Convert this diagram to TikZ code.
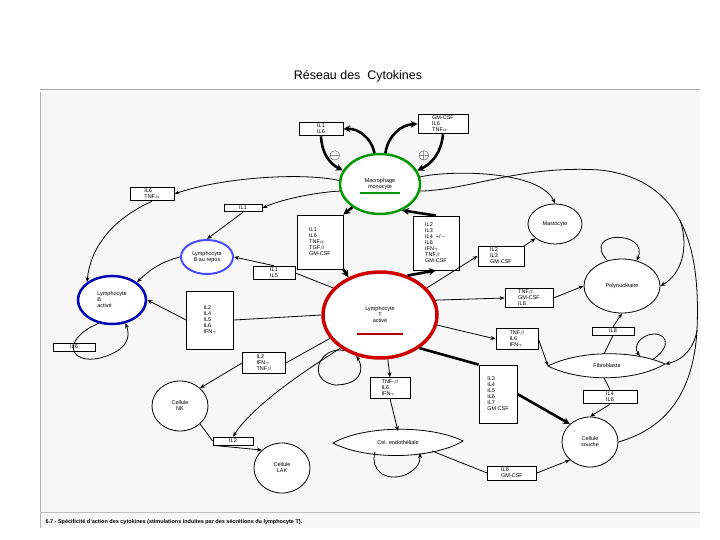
\documentclass[tikz,border=0pt]{standalone}
\usepackage{fontspec}
\setmainfont{Liberation Sans}
\usetikzlibrary{arrows.meta,shapes.geometric,calc}
\begin{document}
\begin{tikzpicture}[x=1bp,y=-1bp,
  txt/.style={font=\fontsize{5.5}{6}\selectfont,align=left,inner sep=0pt},
  box/.style={draw,thick,fill=white,font=\fontsize{5.5}{6}\selectfont,align=left,minimum width=#1,inner sep=2pt},
  box/.default=40bp,
  cell/.style={draw,thick,ellipse,fill=white,font=\fontsize{5.5}{6}\selectfont,align=center},
  ar/.style={thick,-{Stealth[length=5pt,width=4pt]}},
  far/.style={line width=2.6pt,-{Stealth[length=7pt,width=7pt]}},
  ln/.style={thick}]
\useasboundingbox (0,0) rectangle (720,540);
\fill[gray!6] (40,90) rectangle (700,528);
\draw[gray!70,line width=1pt] (40,90) -- (700,90);
\draw[gray!60] (40,92) -- (40,528);
\draw[gray!50] (40,512) -- (700,512);
\node[font=\fontsize{12.5}{14}\selectfont] (title) at (358,76) {Réseau des\ \ Cytokines};
\node[font=\fontsize{5.5}{6}\selectfont\bfseries,anchor=west] (cap) at (42,522) {6.7 - Spécificité d'action des cytokines (stimulations induites par des sécrétions du lymphocyte T).};

% cells
\node[cell,line width=2.5pt,draw=green!60!black,minimum width=80bp,minimum height=60bp] (mac) at (380,184) {Macrophage\\monocyte};
\draw[green!60!black,line width=1.5pt] (360,193) -- (400,193);
\node[cell,line width=3.5pt,draw=red!80!black,minimum width=114bp,minimum height=86bp] (T) at (380,315) {Lymphocyte\\T\\activé};
\draw[red!70!black,line width=1.5pt] (357,334) -- (403,334);
\node[cell,line width=2pt,draw=blue!70,minimum width=52bp,minimum height=34bp,inner sep=0pt] (Br) at (207,257) {Lymphocyte\\B au repos};
\node[cell,line width=2.5pt,draw=blue!70!black,minimum width=68bp,minimum height=48bp,align=left] (Ba) at (112,300) {Lymphocyte\\B\\activé};
\node[cell,minimum width=54bp,minimum height=40bp] (mas) at (555,224) {Mastocyte};
\node[cell,minimum width=76bp,minimum height=54bp] (poly) at (622,286) {Polynucléaire};
\node[cell,minimum width=56bp,minimum height=50bp] (NK) at (180,406) {Cellule\\NK};
\node[cell,minimum width=56bp,minimum height=50bp] (LAK) at (282,468) {Cellule\\LAK};
\node[cell,minimum width=56bp,minimum height=50bp] (sou) at (590,442) {Cellule\\souche};
% lens shapes
\draw[thick,fill=white] (333,443) .. controls (365,425) and (431,425) .. (463,441) .. controls (431,460) and (365,460) .. cycle;
\node[txt] (endo) at (398,443) {Cel. endothéliale};
\draw[thick,fill=white] (548,366) .. controls (580,350) and (634,350) .. (665,364) .. controls (634,382) and (580,382) .. cycle;
\node[txt] (fib) at (607,366) {Fibroblaste};
\coordinate (endoW) at (333,443); \coordinate (endoE) at (463,441);
\coordinate (endoN) at (398,431); \coordinate (endoSW) at (375,452);
\coordinate (endoSE) at (420,453); \coordinate (endoS2) at (432,451);
\coordinate (fibW) at (548,366); \coordinate (fibE) at (665,364);
\coordinate (fibN) at (604,354); \coordinate (fibS) at (604,378);
\coordinate (fibNE) at (640,356);

% boxes
\node[box=44bp] (b16) at (321,129) {IL1\\IL6};
\node[box=50bp] (bgm) at (443,124) {GM-CSF\\IL6\\TNF$\alpha$};
\node[box=44bp] (b6t) at (152,194) {IL6\\TNF$\alpha$};
\node[box=38bp,align=center] (b1) at (243,208) {IL1};
\node[box=46bp,minimum height=54bp] (bL) at (320,242) {IL1\\IL6\\TNF$\alpha$\\TGF$\beta$\\GM-CSF};
\node[box=46bp,minimum height=54bp] (bR) at (436,243) {IL2\\IL3\\IL4 \ +/$-$\\IL6\\IFN$\gamma$\\TNF$\beta$\\GM-CSF};
\node[box=42bp] (b15) at (274,273) {IL1\\IL5};
\node[box=46bp] (b23) at (501,256) {IL2\\IL3\\GM-CSF};
\node[box=47bp,minimum height=58bp] (bB) at (210,320) {IL2\\IL4\\IL5\\IL6\\IFN$\gamma$};
\node[box=42bp,align=center] (b6) at (74,347) {IL6};
\node[box=43bp] (b2g) at (264,363) {IL2\\IFN$\gamma$\\TNF$\beta$};
\node[box=40bp,align=center] (b2) at (233,441) {IL2};
\node[box=40bp] (bTe) at (390,388) {TNF-$\beta$\\IL6\\IFN$\gamma$};
\node[box=38bp,minimum height=58bp] (bS) at (498,394) {IL3\\IL4\\IL5\\IL6\\IL7\\GM CSF};
\node[box=48bp] (bTp) at (529,298) {TNF$\beta$\\GM-CSF\\IL8};
\node[box=42bp] (bTf) at (517,339) {TNF$\beta$\\IL6\\IFN$\gamma$};
\node[box=42bp,align=center] (b8) at (613,331) {IL8};
\node[box=54bp] (b46) at (610,397) {IL4\\IL6};
\node[box=49bp] (b6g) at (512,473) {IL6\\GM-CSF};

% macrophage feedback
\draw[far] (mac.100) to[bend right=40] (b16.east);
\draw[far] (b16.south) to[bend right=30] (mac.160);
\draw[far] (mac.80) to[bend left=40] (bgm.west);
\draw[far] (bgm.south) to[bend left=30] (mac.20);
\node[font=\Large] (minus) at (335,156) {$\ominus$};
\node[font=\Large] (plus) at (424,156) {$\oplus$};
\draw[far] (mac.220) -- (bL.north east);
\draw[far] (bL.south east) -- (T.130);
\draw[far] (T.55) -- (bR.south);
\draw[far] (bR.north) -- (mac.310);

% left side
\draw[ar] (mac.175) .. controls (300,172) and (220,178) .. (b6t.east);
\draw[ar] (b6t.south) .. controls (110,220) and (90,250) .. (Ba.north west);
\draw[ar] (mac.190) .. controls (320,192) and (285,198) .. (b1.east);
\draw[ar] (b1.south) -- (Br.north);
\draw[ln] (T.150) -- (b15.east);
\draw[ar] (b15.north) -- (Br.east);
\draw[ar] (Br.west) .. controls (160,262) and (150,270) .. (Ba.north east);
\draw[ln] (T.180) -- (bB.east);
\draw[ar] (bB.west) -- (Ba.east);
\draw[ar] (Ba.240) .. controls (60,340) and (70,365) .. (100,358) .. controls (130,350) and (130,335) .. (Ba.300);
\draw[ln] (T.205) -- (b2g.east);
\draw[ar] (b2g.west) -- (NK.north east);
\draw[ar] (T.220) .. controls (290,380) and (250,410) .. (b2.north);
\draw[ln] (NK.south east) -- (b2.west);
\draw[ar] (b2.south west) -- (LAK.north west);
\draw[ar] (T.225) .. controls (320,345) and (305,380) .. (335,385) .. controls (360,385) and (365,370) .. (T.240);

% bottom
\draw[ar] (T.280) -- (bTe.north);
\draw[ar] (bTe.south) -- (endoN);
\draw[ar] (endoSW) .. controls (370,470) and (385,482) .. (405,475) .. controls (420,468) and (420,460) .. (endoSE);
\draw[ln] (endoS2) -- (b6g.west);
\draw[ar] (b6g.east) -- (sou.south west);
\draw[line width=2.6pt] (T.320) -- (bS.north west);
\draw[far] (bS.east) -- (sou.north west);

% right
\draw[ar] (T.30) -- (b23.west);
\draw[ar] (b23.north east) -- (mas.south west);
\draw[ar] (T.15) -- (bTp.west);
\draw[ar] (bTp.east) -- (poly.west);
\draw[ar] (T.350) -- (bTf.west);
\draw[ar] (bTf.east) -- (fibW);
\draw[ln] (fibN) -- (b8.south);
\draw[ar] (b8.north) -- (poly.south);
\draw[ln] (fibS) -- (b46.north);
\draw[ar] (b46.south) -- (sou.north);
\draw[ar] (poly.120) .. controls (580,230) and (650,230) .. (poly.60);
\draw[ar] (652,360) .. controls (675,345) and (665,330) .. (648,335) .. controls (635,340) and (635,350) .. (fibNE);
\draw[ar] (mac.10) .. controls (450,170) and (540,170) .. (mas.north);
\draw[ln] (mac.350) .. controls (470,190) and (520,165) .. (600,170) .. controls (690,180) and (700,260) .. (697,330) .. controls (693,400) and (660,430) .. (sou.east);
\draw[ar] (680,220) .. controls (690,250) and (680,275) .. (poly.east);
\draw[ar] (697,330) .. controls (695,345) and (685,360) .. (fibE);
\end{tikzpicture}
\end{document}
